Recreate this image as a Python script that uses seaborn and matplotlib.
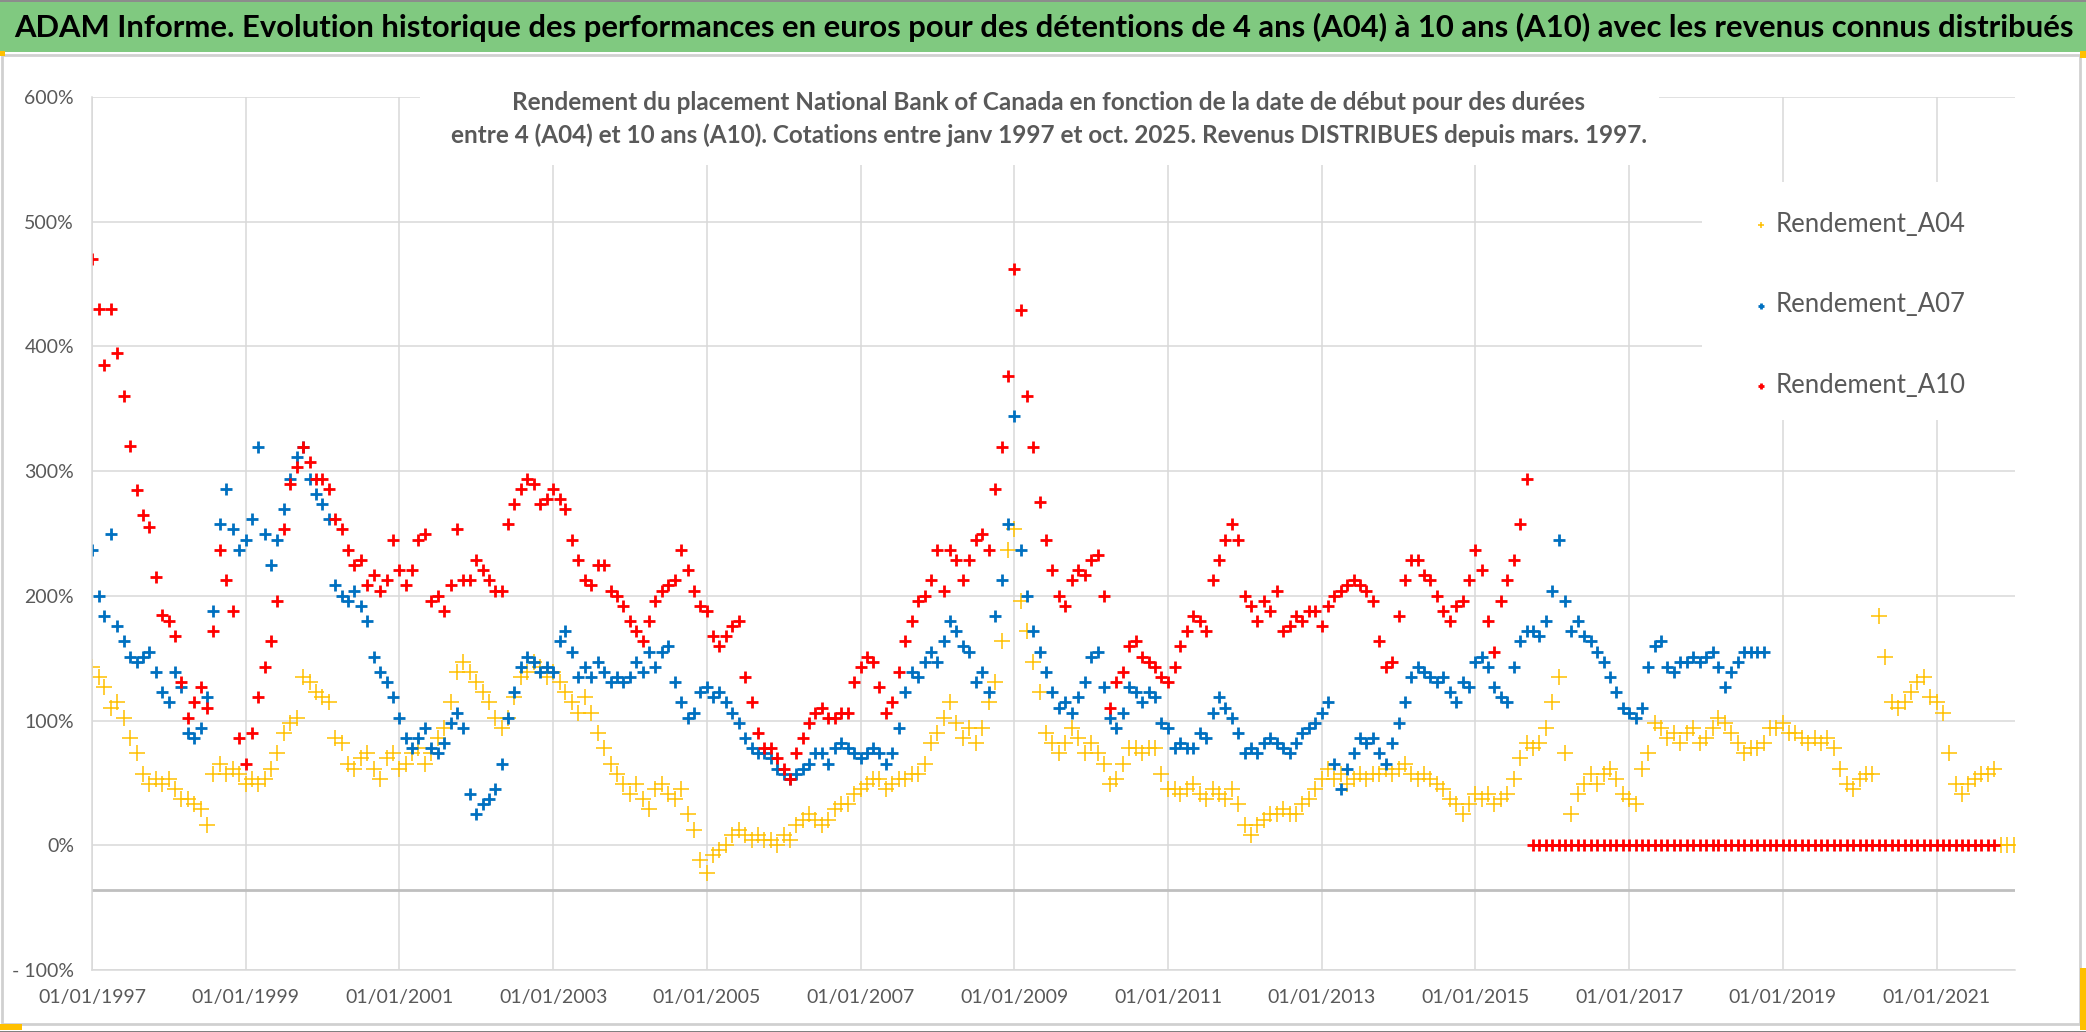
import pandas as pd
import seaborn as sns
import matplotlib.pyplot as plt
import matplotlib.dates as mdates
from matplotlib.patches import Rectangle
from matplotlib.ticker import FixedLocator, FuncFormatter

# Monthly readings (%), starting January 1997
rendement_a04 = [
    143, 135, 127, 110, 115, 102, 86, 74, 57, 49, 53, 49,        # 1997
    53, 45, 37, 37, 33, 29, 16, 57, 65, 57, 61, 57,              # 1998
    49, 53, 49, 53, 61, 74, 90, 98, 102, 135, 131, 123,          # 1999
    119, 115, 86, 82, 65, 61, 70, 74, 61, 53, 70, 74,            # 2000
    61, 65, 74, 78, 65, 74, 86, 94, 115, 139, 147, 139,          # 2001
    131, 123, 115, 102, 94, 102, 119, 135, 139, 147, 143, 135,   # 2002
    139, 131, 123, 115, 106, 119, 106, 90, 78, 65, 57, 49,       # 2003
    41, 49, 37, 29, 45, 49, 41, 37, 45, 25, 12, -12,             # 2004
    -22, -8, -4, 0, 8, 12, 8, 4, 8, 4, 4, 0,                     # 2005
    8, 4, 16, 20, 25, 20, 16, 20, 29, 33, 33, 41,                # 2006
    45, 49, 53, 53, 45, 49, 53, 53, 57, 57, 65, 82,              # 2007
    90, 102, 115, 98, 86, 94, 82, 94, 115, 131, 164, 237,        # 2008
    254, 196, 172, 147, 123, 90, 82, 74, 82, 94, 86, 74,         # 2009
    82, 74, 65, 49, 53, 65, 78, 78, 74, 78, 78, 57,              # 2010
    45, 45, 41, 45, 49, 41, 37, 45, 41, 37, 45, 33,              # 2011
    16, 8, 16, 20, 25, 25, 29, 25, 25, 33, 37, 45,               # 2012
    53, 61, 53, 57, 49, 53, 57, 53, 57, 57, 61, 57,              # 2013
    61, 65, 57, 53, 57, 53, 49, 45, 37, 33, 25, 33,              # 2014
    41, 37, 41, 33, 37, 41, 53, 70, 82, 78, 82, 94,              # 2015
    115, 135, 74, 25, 41, 49, 57, 49, 57, 61, 53, 41,            # 2016
    37, 33, 61, 74, 98, 94, 86, 90, 82, 90, 94, 82,              # 2017
    86, 94, 102, 98, 90, 82, 74, 78, 78, 82, 94, 94,             # 2018
    98, 90, 90, 86, 82, 86, 82, 86, 78, 61, 49, 45,              # 2019
    53, 57, 57, 184, 151, 115, 110, 115, 123, 131, 135, 119,     # 2020
    115, 106, 74, 49, 41, 49, 53, 57, 57, 61, 0, 0,              # 2021
    0,                                                           # 2022
]

rendement_a07 = [
    237, 200, 184, 250, 176, 164, 151, 147, 151, 155, 139, 123,  # 1997
    115, 139, 127, 90, 86, 94, 119, 188, 258, 286, 254, 237,     # 1998
    245, 262, 319, 250, 225, 245, 270, 294, 311, 319, 294, 282,  # 1999
    274, 262, 209, 200, 196, 204, 192, 180, 151, 139, 131, 119,  # 2000
    102, 86, 78, 86, 94, 78, 74, 82, 98, 106, 94, 41,            # 2001
    25, 33, 37, 45, 65, 102, 123, 143, 151, 147, 139, 143,       # 2002
    139, 164, 172, 155, 135, 143, 135, 147, 139, 131, 135, 131,  # 2003
    135, 147, 139, 155, 143, 155, 160, 131, 115, 102, 106, 123,  # 2004
    127, 119, 123, 115, 106, 98, 86, 78, 74, 74, 70, 61,         # 2005
    57, 53, 57, 61, 65, 74, 74, 65, 78, 82, 78, 74,              # 2006
    70, 74, 78, 74, 65, 74, 94, 123, 139, 135, 147, 155,         # 2007
    147, 164, 180, 172, 160, 155, 131, 139, 123, 184, 213, 258,  # 2008
    344, 237, 200, 172, 155, 139, 123, 110, 115, 106, 119, 131,  # 2009
    151, 155, 127, 102, 94, 106, 127, 123, 115, 123, 119, 98,    # 2010
    94, 78, 82, 78, 78, 90, 86, 106, 119, 110, 102, 90,          # 2011
    74, 78, 74, 82, 86, 82, 78, 74, 82, 90, 94, 98,              # 2012
    106, 115, 65, 45, 61, 74, 86, 82, 86, 74, 65, 82,            # 2013
    98, 115, 135, 143, 139, 135, 131, 135, 123, 115, 131, 127,   # 2014
    147, 151, 143, 127, 119, 115, 143, 164, 172, 172, 168, 180,  # 2015
    204, 245, 196, 172, 180, 168, 164, 155, 147, 135, 123, 110,  # 2016
    106, 102, 110, 143, 160, 164, 143, 139, 147, 147, 151, 147,  # 2017
    151, 155, 143, 127, 139, 147, 155, 155, 155, 155,            # 2018
]

rendement_a10 = [
    470, 430, 385, 430, 395, 360, 320, 285, 265, 255, 215, 185,  # 1997
    180, 168, 131, 102, 115, 127, 110, 172, 237, 213, 188, 86,   # 1998
    65, 90, 119, 143, 164, 196, 254, 290, 303, 319, 307, 294,    # 1999
    294, 286, 262, 254, 237, 225, 229, 209, 217, 204, 213, 245,  # 2000
    221, 209, 221, 245, 250, 196, 200, 188, 209, 254, 213, 213,  # 2001
    229, 221, 213, 204, 204, 258, 274, 286, 294, 290, 274, 278,  # 2002
    286, 278, 270, 245, 229, 213, 209, 225, 225, 204, 200, 192,  # 2003
    180, 172, 164, 180, 196, 204, 209, 213, 237, 221, 204, 192,  # 2004
    188, 168, 160, 168, 176, 180, 135, 115, 90, 78, 78, 70,      # 2005
    61, 53, 74, 86, 98, 106, 110, 102, 102, 106, 106, 131,       # 2006
    143, 151, 147, 127, 106, 115, 139, 164, 180, 196, 200, 213,  # 2007
    237, 204, 237, 229, 213, 229, 245, 250, 237, 286, 319, 376,  # 2008
    462, 429, 360, 319, 275, 245, 221, 200, 192, 213, 221, 217,  # 2009
    229, 233, 200, 110, 131, 139, 160, 164, 151, 147, 143, 135,  # 2010
    131, 143, 160, 172, 184, 180, 172, 213, 229, 245, 258, 245,  # 2011
    200, 192, 180, 196, 188, 204, 172, 176, 184, 180, 188, 188,  # 2012
    176, 192, 200, 204, 209, 213, 209, 204, 196, 164, 143, 147,  # 2013
    184, 213, 229, 229, 217, 213, 200, 188, 180, 192, 196, 213,  # 2014
    237, 221, 180, 155, 196, 213, 229, 258, 294, 0, 0, 0,        # 2015
    0, 0, 0, 0, 0, 0, 0, 0, 0, 0, 0, 0,                          # 2016
    0, 0, 0, 0, 0, 0, 0, 0, 0, 0, 0, 0,                          # 2017
    0, 0, 0, 0, 0, 0, 0, 0, 0, 0, 0, 0,                          # 2018
    0, 0, 0, 0, 0, 0, 0, 0, 0, 0, 0, 0,                          # 2019
    0, 0, 0, 0, 0, 0, 0, 0, 0, 0, 0, 0,                          # 2020
    0, 0, 0, 0, 0, 0, 0, 0, 0, 0,                                # 2021
]

series_names = ["Rendement_A04", "Rendement_A07", "Rendement_A10"]
series_values = [rendement_a04, rendement_a07, rendement_a10]
series_colors = ["#FFC000", "#0070C0", "#FF0000"]

y_ticks = [-100, 0, 100, 200, 300, 400, 500, 600]

title = ("ADAM Informe. Evolution historique des performances en euros pour des "
         "détentions de 4 ans (A04) à 10 ans (A10) avec les revenus connus distribués")
subtitle = ("Rendement du placement National Bank of Canada en fonction de la date de début pour des durées\n"
            "entre 4 (A04) et 10 ans (A10). Cotations entre janv 1997 et oct. 2025. "
            "Revenus DISTRIBUES depuis mars. 1997.")

sns.set_theme(style="whitegrid")
plt.rcParams["font.family"] = ["Lato", "DejaVu Sans"]
plt.rcParams["grid.color"] = "#D9D9D9"
plt.rcParams["grid.linewidth"] = 1.1

W, H = 2086, 1032
fig = plt.figure(figsize=(W / 100, H / 100), dpi=100)
fig.patch.set_facecolor("white")
ax = fig.add_axes([92 / W, 1 - 970 / H, 1923 / W, 873 / H])
ax.set_facecolor("white")

marker_sizes = [120, 85, 85]
marker_widths = [1.1, 2.0, 2.0]
for name, vals, color, s, lw in zip(series_names, series_values, series_colors,
                                    marker_sizes, marker_widths):
    df = pd.DataFrame({
        "date": pd.date_range("1997-01-01", periods=len(vals), freq="MS"),
        "rendement": vals,
    })
    sns.scatterplot(data=df, x="date", y="rendement", ax=ax, marker="+",
                    color=color, s=s, linewidth=lw, label=name, zorder=2)

ax.set(xlabel="", ylabel="")
ax.set_xlim(pd.Timestamp("1997-01-01"), pd.Timestamp("2022-01-08"))
ax.set_ylim(-100, 600)
ax.set_xticks(pd.date_range("1997-01-01", "2021-01-01", freq="2YS"))
ax.xaxis.set_major_formatter(mdates.DateFormatter("%d/%m/%Y"))
ax.yaxis.set_major_locator(FixedLocator(y_ticks))
ax.yaxis.set_major_formatter(FuncFormatter(
    lambda v, p: f"- {abs(v):.0f}%" if v < 0 else f"{v:.0f}%"))
ax.tick_params(axis="both", length=0, labelsize=14, labelcolor="#595959")
ax.tick_params(axis="y", pad=13)
ax.tick_params(axis="x", pad=14)
ax.set_axisbelow(True)
ax.grid(True, color="#D9D9D9", linewidth=1.1)
for side in ["top", "right"]:
    ax.spines[side].set_visible(False)
for side in ["left", "bottom"]:
    ax.spines[side].set_color("#D9D9D9")
    ax.spines[side].set_linewidth(1.1)

# horizontal axis line of the original chart
ax.axhline(-36, color="#BFBFBF", linewidth=2, zorder=1)

# white boxes behind subtitle and legend
ax.add_patch(Rectangle((0.1706, 0.922), 0.6443, 0.1, transform=ax.transAxes,
                       facecolor="white", edgecolor="none", zorder=1.5, clip_on=False))
ax.add_patch(Rectangle((0.8372, 0.630), 0.1628, 0.2726, transform=ax.transAxes,
                       facecolor="white", edgecolor="none", zorder=1.5, clip_on=False))

handles, labels = ax.get_legend_handles_labels()
ax.legend(handles, labels, loc="upper left", bbox_to_anchor=(0.8648, 0.868),
          frameon=False, borderpad=0, borderaxespad=0, handlelength=0.5,
          handletextpad=0.3, labelspacing=2.15, fontsize=18.5, markerscale=0.45,
          labelcolor="#595959")

# banner and chart frame
fig.add_artist(Rectangle((0, 1 - 52 / H), 1, 52 / H, transform=fig.transFigure,
                         facecolor="#80C980", edgecolor="none", zorder=0))
fig.add_artist(Rectangle((0, 1 - 2 / H), 1, 2 / H, transform=fig.transFigure,
                         facecolor="#8C8C8C", edgecolor="none", zorder=0))
fig.add_artist(Rectangle((2 / W, 1 - 1024 / H), 2078 / W, 969 / H, transform=fig.transFigure,
                         facecolor="none", edgecolor="#D0D0D0", linewidth=2, zorder=0))
fig.add_artist(Rectangle((0, 0), 1, 1.5 / H, transform=fig.transFigure,
                         facecolor="#808080", edgecolor="none", zorder=0))
fig.add_artist(Rectangle((0, 2 / H), 22 / W, 6 / H, transform=fig.transFigure,
                         facecolor="#FFC000", edgecolor="none", zorder=0))
fig.add_artist(Rectangle((2080 / W, 2 / H), 6 / W, 62 / H, transform=fig.transFigure,
                         facecolor="#FFC000", edgecolor="none", zorder=0))
fig.add_artist(Rectangle((0, 1 - 56 / H), 5 / W, 5 / H, transform=fig.transFigure,
                         facecolor="#FFC000", edgecolor="none", zorder=0))
fig.add_artist(Rectangle((2080 / W, 1 - 58 / H), 6 / W, 7 / H, transform=fig.transFigure,
                         facecolor="#FFC000", edgecolor="none", zorder=0))

fig.text(14 / W, 1 - 27 / H, title, ha="left", va="center", fontsize=22.3,
         fontweight="bold", color="black")
fig.text(1049 / W, 1 - 119 / H, subtitle, ha="center", va="center", fontsize=17.5,
         fontweight="bold", color="#595959", linespacing=1.5, multialignment="center")

fig.savefig("out.png", dpi=100)
